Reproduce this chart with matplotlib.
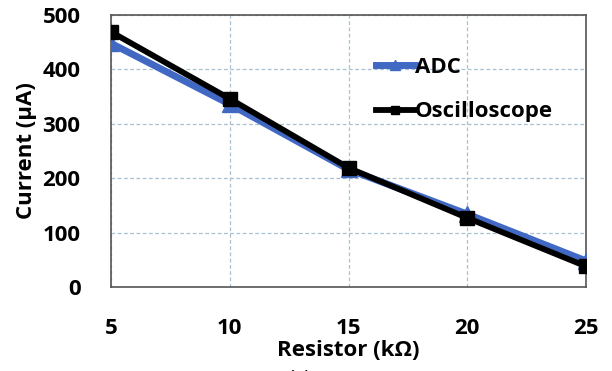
import matplotlib
matplotlib.use("Agg")
import matplotlib.pyplot as plt

resistor = [5, 10, 15, 20, 25]
adc = [448, 336, 216, 134, 48]
osc = [469, 346, 219, 127, 38]
xticks = [5, 10, 15, 20, 25]
yticks = [0, 100, 200, 300, 400, 500]

plt.rcParams['font.family'] = ['Open Sans', 'DejaVu Sans']
fig = plt.figure(figsize=(6.12, 3.71), dpi=100)
ax = fig.add_axes([111/612, 1-287/371, (586-111)/612, (287-15)/371])

ax.plot(resistor, adc, color='#4169c4', lw=5, marker='^', ms=11, label='ADC', zorder=3)
ax.plot(resistor, osc, color='black', lw=4.2, marker='s', ms=10, label='Oscilloscope', zorder=4)

ax.set_xlim(5, 25)
ax.set_ylim(0, 500)
ax.set_xticks(xticks)
ax.set_yticks(yticks)
ax.tick_params(axis='x', length=0, labelsize=16, pad=22)
ax.tick_params(axis='y', length=0, labelsize=16, pad=22)
for lab in ax.get_xticklabels() + ax.get_yticklabels():
    lab.set_fontweight('bold')
ax.grid(True, color='#a8c0d0', ls=(0, (3, 2)), lw=0.9)
for s in ax.spines.values():
    s.set_color('#555555')
    s.set_linewidth(1.2)
ax.set_xlabel('Resistor (kΩ)', fontsize=16, fontweight='bold', labelpad=1)
ax.set_ylabel('Current (μA)', fontsize=16, fontweight='bold', labelpad=4)

leg = ax.legend(loc='center left', bbox_to_anchor=(0.515, 0.725), frameon=False,
                handlelength=1.75, handletextpad=0.0, labelspacing=1.05, markerscale=0.6,
                prop={'weight': 'bold', 'size': 16})

fig.text(0.49, -0.02, '(a)', ha='center', va='center', fontsize=14)
fig.savefig('out.png', dpi=100)
